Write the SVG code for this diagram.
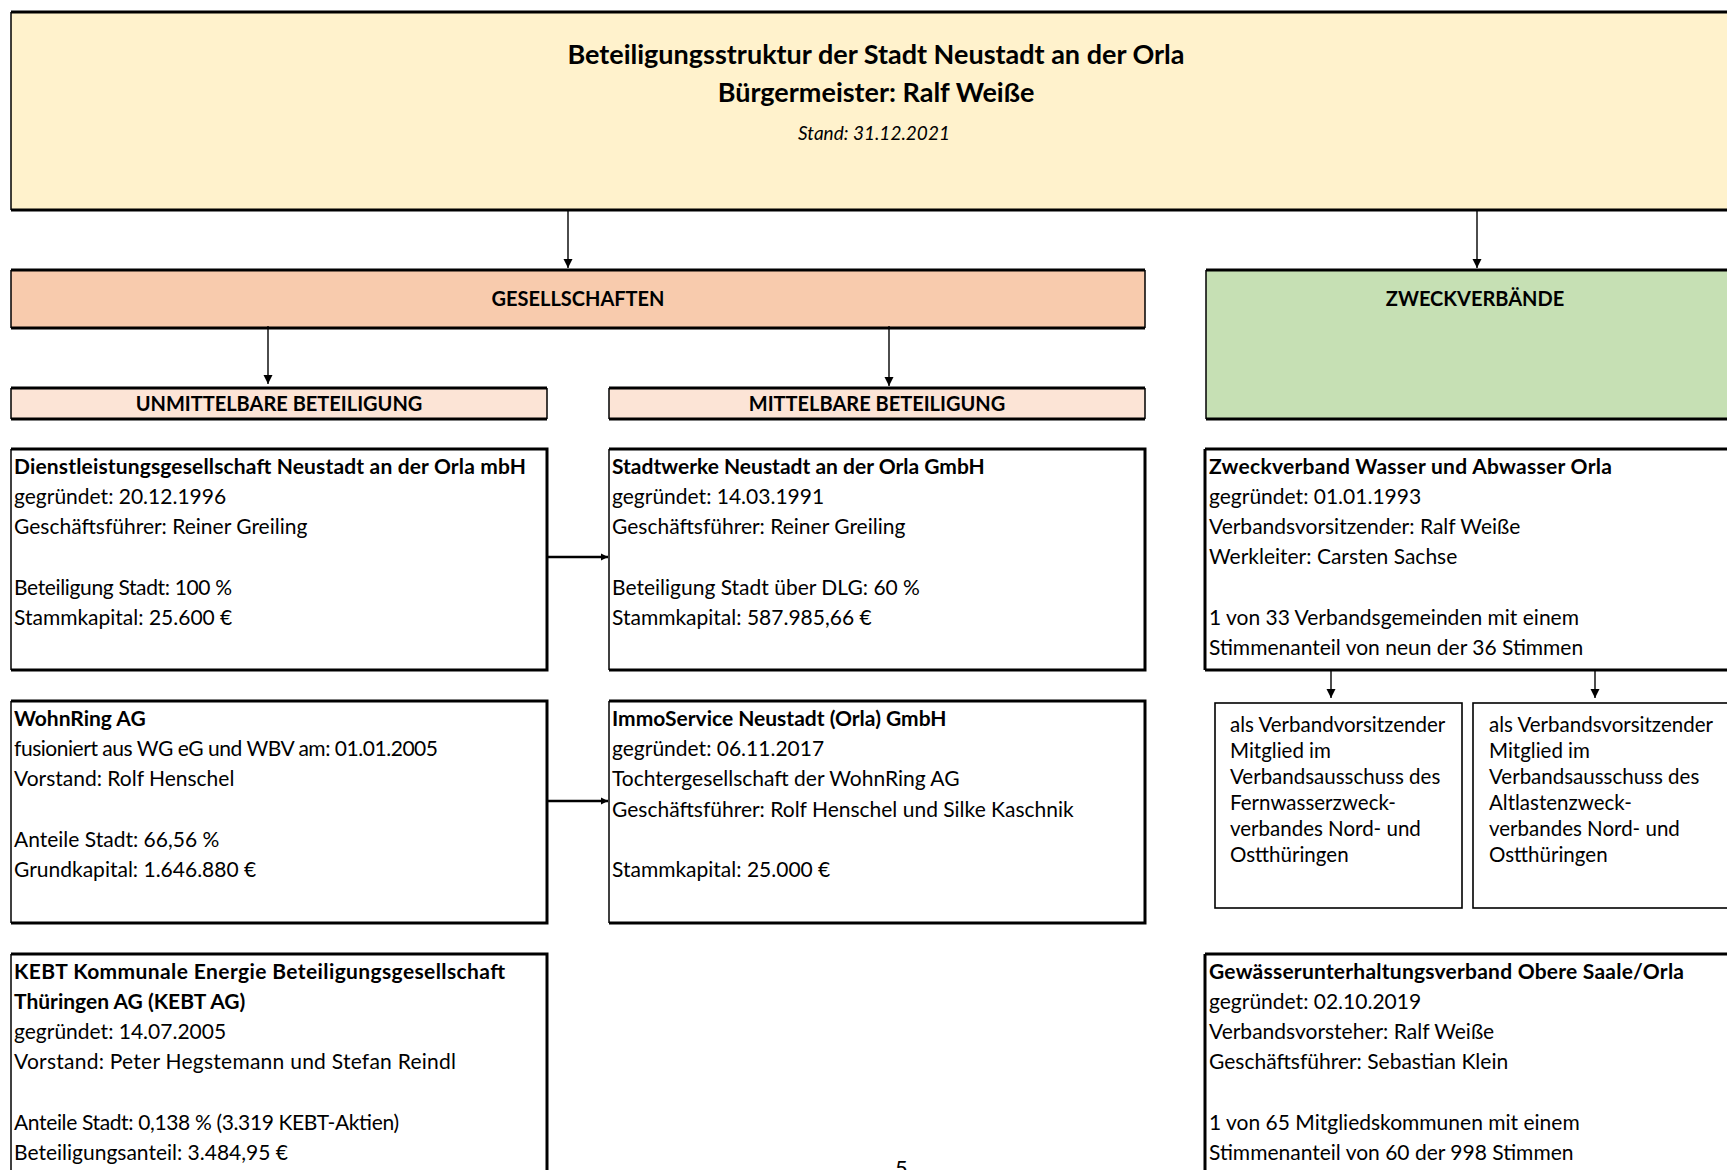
<svg xmlns="http://www.w3.org/2000/svg" width="1727" height="1170" viewBox="0 0 1727 1170">
<style>
.t{font-family:Lato,"Liberation Sans",sans-serif;font-size:21px;fill:#000}
.b{font-weight:bold}
.s{font-size:20.5px}
.h{font-family:Lato,"Liberation Sans",sans-serif;font-size:20px;font-weight:bold;fill:#000;text-anchor:middle}
.thick{fill:none;stroke:#000;stroke-width:3}
.thin{fill:none;stroke:#000;stroke-width:1.5}
.con{fill:none;stroke:#000;stroke-width:1.4}
.con2{fill:none;stroke:#000;stroke-width:2.4}
</style>
<defs>
<marker id="ah" markerUnits="userSpaceOnUse" viewBox="0 0 10 10" refX="10" refY="5" markerWidth="9" markerHeight="10" orient="auto">
<path d="M0,0 L10,5 L0,10 z" fill="#000"/>
</marker>
<marker id="ah2" markerUnits="userSpaceOnUse" viewBox="0 0 10 10" refX="10" refY="5" markerWidth="7" markerHeight="9" orient="auto">
<path d="M0,0 L10,5 L0,10 z" fill="#000"/>
</marker>
</defs>
<rect width="1727" height="1170" fill="#fff"/>

<g id="title">
<rect x="11" y="12" width="1720" height="198" fill="#FFF2CC"/>
<path class="thick" d="M11,12 H1730 M11,210 H1730"/>
<path class="thin" d="M11,12 V210"/>
<text class="t b" x="876" y="64" text-anchor="middle" style="font-size:27px">Beteiligungsstruktur der Stadt Neustadt an der Orla</text>
<text class="t b" x="876" y="102" text-anchor="middle" style="font-size:27px">Bürgermeister: Ralf Weiße</text>
<text class="t" x="874" y="140" text-anchor="middle" style="font-size:19px;font-style:italic">Stand: 31.12.2021</text>
</g>

<g id="gesellschaften">
<rect x="11" y="270" width="1134" height="58" fill="#F8CBAD"/>
<path class="thick" d="M11,270 H1145 M11,328 H1145"/>
<path class="thin" d="M11,270 V328 M1145,270 V328"/>
<text class="h" x="578" y="306">GESELLSCHAFTEN</text>
</g>

<g id="zweckverbaende">
<rect x="1206" y="270" width="525" height="149" fill="#C6E0B4"/>
<path class="thick" d="M1206,270 H1730 M1206,419 H1730"/>
<path class="thin" d="M1206,270 V419"/>
<text class="h" x="1475" y="306">ZWECKVERBÄNDE</text>
</g>

<g id="unmittelbar">
<rect x="11" y="388" width="536" height="31" fill="#FCE4D6"/>
<path class="thick" d="M11,388 H547 M11,419 H547"/>
<path class="thin" d="M11,388 V419 M547,388 V419"/>
<text class="h" x="279" y="411">UNMITTELBARE BETEILIGUNG</text>
</g>

<g id="mittelbar">
<rect x="609" y="388" width="536" height="31" fill="#FCE4D6"/>
<path class="thick" d="M609,388 H1145 M609,419 H1145"/>
<path class="thin" d="M609,388 V419 M1145,388 V419"/>
<text class="h" x="877" y="411">MITTELBARE BETEILIGUNG</text>
</g>

<g id="dlg">
<rect x="11" y="449" width="536" height="221" fill="#fff"/>
<path class="thick" d="M11,449 H547 V670 H11"/>
<path class="thin" d="M11,449 V670"/>
<text class="t b" x="14" y="474" textLength="512">Dienstleistungsgesellschaft Neustadt an der Orla mbH</text>
<text class="t" x="14" y="504">gegründet: 20.12.1996</text>
<text class="t" x="14" y="534">Geschäftsführer: Reiner Greiling</text>
<text class="t" x="14" y="595" textLength="218">Beteiligung Stadt: 100 %</text>
<text class="t" x="14" y="625">Stammkapital: 25.600 €</text>
</g>

<g id="stadtwerke">
<rect x="609" y="449" width="536" height="221" fill="#fff"/>
<path class="thick" d="M609,449 H1145 V670 H609"/>
<path class="thin" d="M609,449 V670"/>
<text class="t b" x="612" y="474">Stadtwerke Neustadt an der Orla GmbH</text>
<text class="t" x="612" y="504">gegründet: 14.03.1991</text>
<text class="t" x="612" y="534">Geschäftsführer: Reiner Greiling</text>
<text class="t" x="612" y="595">Beteiligung Stadt über DLG: 60 %</text>
<text class="t" x="612" y="625">Stammkapital: 587.985,66 €</text>
</g>

<g id="zvwa">
<rect x="1205" y="449" width="526" height="221" fill="#fff"/>
<path class="thick" d="M1205,449 H1730 M1205,670 H1730"/>
<path class="thick" d="M1205,449 V670"/>
<text class="t b" x="1209" y="474" textLength="403">Zweckverband Wasser und Abwasser Orla</text>
<text class="t" x="1209" y="504">gegründet: 01.01.1993</text>
<text class="t" x="1209" y="534">Verbandsvorsitzender: Ralf Weiße</text>
<text class="t" x="1209" y="564">Werkleiter: Carsten Sachse</text>
<text class="t" x="1209" y="625">1 von 33 Verbandsgemeinden mit einem</text>
<text class="t" x="1209" y="655">Stimmenanteil von neun der 36 Stimmen</text>
</g>

<g id="wohnring">
<rect x="11" y="701" width="536" height="222" fill="#fff"/>
<path class="thick" d="M11,701 H547 V923 H11"/>
<path class="thin" d="M11,701 V923"/>
<text class="t b" x="14" y="726">WohnRing AG</text>
<text class="t" x="14" y="756" textLength="424">fusioniert aus WG eG und WBV am: 01.01.2005</text>
<text class="t" x="14" y="786">Vorstand: Rolf Henschel</text>
<text class="t" x="14" y="847">Anteile Stadt: 66,56 %</text>
<text class="t" x="14" y="877">Grundkapital: 1.646.880 €</text>
</g>

<g id="immoservice">
<rect x="609" y="701" width="536" height="222" fill="#fff"/>
<path class="thick" d="M609,701 H1145 V923 H609"/>
<path class="thin" d="M609,701 V923"/>
<text class="t b" x="612" y="726">ImmoService Neustadt (Orla) GmbH</text>
<text class="t" x="612" y="756">gegründet: 06.11.2017</text>
<text class="t" x="612" y="786">Tochtergesellschaft der WohnRing AG</text>
<text class="t" x="612" y="817">Geschäftsführer: Rolf Henschel und Silke Kaschnik</text>
<text class="t" x="612" y="877">Stammkapital: 25.000 €</text>
</g>

<g id="fernwasser">
<rect x="1215" y="703" width="247" height="205" fill="#fff" stroke="#000" stroke-width="1.6"/>
<text class="t s" x="1230" y="731.5">als Verbandvorsitzender</text>
<text class="t s" x="1230" y="757.5">Mitglied im</text>
<text class="t s" x="1230" y="783.5">Verbandsausschuss des</text>
<text class="t s" x="1230" y="809.5">Fernwasserzweck-</text>
<text class="t s" x="1230" y="835.5">verbandes Nord- und</text>
<text class="t s" x="1230" y="861.5">Ostthüringen</text>
</g>

<g id="altlasten">
<rect x="1473" y="703" width="260" height="205" fill="#fff" stroke="#000" stroke-width="1.6"/>
<text class="t s" x="1489" y="731.5">als Verbandsvorsitzender</text>
<text class="t s" x="1489" y="757.5">Mitglied im</text>
<text class="t s" x="1489" y="783.5">Verbandsausschuss des</text>
<text class="t s" x="1489" y="809.5">Altlastenzweck-</text>
<text class="t s" x="1489" y="835.5">verbandes Nord- und</text>
<text class="t s" x="1489" y="861.5">Ostthüringen</text>
</g>

<g id="kebt">
<rect x="11" y="954" width="536" height="230" fill="#fff"/>
<path class="thick" d="M11,954 H547 V1175"/>
<path class="thin" d="M11,954 V1175"/>
<text class="t b" x="14" y="979" textLength="491">KEBT Kommunale Energie Beteiligungsgesellschaft</text>
<text class="t b" x="14" y="1009">Thüringen AG (KEBT AG)</text>
<text class="t" x="14" y="1039">gegründet: 14.07.2005</text>
<text class="t" x="14" y="1069" textLength="442">Vorstand: Peter Hegstemann und Stefan Reindl</text>
<text class="t" x="14" y="1130" textLength="385">Anteile Stadt: 0,138 % (3.319 KEBT-Aktien)</text>
<text class="t" x="14" y="1160">Beteiligungsanteil: 3.484,95 €</text>
</g>

<g id="gewaesser">
<rect x="1205" y="954" width="526" height="230" fill="#fff"/>
<path class="thick" d="M1205,954 H1730 M1205,954 V1175"/>
<text class="t b" x="1209" y="979" textLength="475">Gewässerunterhaltungsverband Obere Saale/Orla</text>
<text class="t" x="1209" y="1009">gegründet: 02.10.2019</text>
<text class="t" x="1209" y="1039">Verbandsvorsteher: Ralf Weiße</text>
<text class="t" x="1209" y="1069">Geschäftsführer: Sebastian Klein</text>
<text class="t" x="1209" y="1130">1 von 65 Mitgliedskommunen mit einem</text>
<text class="t" x="1209" y="1160">Stimmenanteil von 60 der 998 Stimmen</text>
</g>

<g id="connectors">
<line class="con" x1="568" y1="211" x2="568" y2="268" marker-end="url(#ah)"/>
<line class="con" x1="1477" y1="211" x2="1477" y2="268" marker-end="url(#ah)"/>
<line class="con" x1="268" y1="326" x2="268" y2="384" marker-end="url(#ah)"/>
<line class="con" x1="889" y1="326" x2="889" y2="386" marker-end="url(#ah)"/>
<line class="con2" x1="548" y1="557" x2="608" y2="557" marker-end="url(#ah2)"/>
<line class="con2" x1="548" y1="801" x2="608" y2="801" marker-end="url(#ah2)"/>
<line class="con" x1="1331" y1="671" x2="1331" y2="698" marker-end="url(#ah)"/>
<line class="con" x1="1595" y1="671" x2="1595" y2="698" marker-end="url(#ah)"/>
</g>

<text class="t" x="895" y="1176" style="font-size:22px">5</text>
</svg>
